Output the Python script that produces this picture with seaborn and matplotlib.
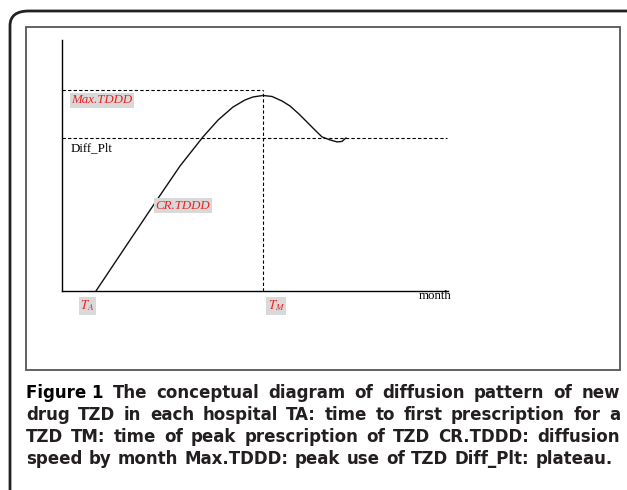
import matplotlib
matplotlib.use('Agg')
import matplotlib.pyplot as plt
import seaborn as sns
import pandas as pd
from matplotlib.patches import FancyBboxPatch, Rectangle

# curva conceitual (mes, TDDD)
meses = [3.52, 6.63, 9.84, 12.23, 14.61, 16.17, 17.72, 18.96, 19.79, 20.83, 21.76,
         22.80, 23.63, 24.56, 25.39, 26.22, 26.94, 27.77, 28.50, 29.02, 29.43]
tddd = [0.0, 1.79, 3.63, 4.98, 6.14, 6.81, 7.33, 7.61, 7.73, 7.79, 7.75,
        7.57, 7.37, 7.05, 6.73, 6.41, 6.14, 6.02, 5.94, 5.96, 6.10]

t_a = 3.5
t_m = 20.83
max_tddd = 8.0
diff_plt = 6.1
x_max = 40
y_max = 10

legenda = [
    "The conceptual diagram of diffusion pattern of new",
    "drug TZD in each hospital TA: time to first prescription for a",
    "TZD TM: time of peak prescription of TZD CR.TDDD: diffusion",
    "speed by month Max.TDDD: peak use of TZD Diff_Plt: plateau.",
]

df = pd.DataFrame({'mes': meses, 'tddd': tddd})

sns.set_style("white")
plt.rcParams['mathtext.fontset'] = 'stix'

W, H = 627, 490
fig = plt.figure(figsize=(W / 100, H / 100), dpi=100)

# moldura externa arredondada e caixa interna
fig.patches.append(FancyBboxPatch((10 / W, -0.1), 1.1, (H - 11) / H + 0.1,
                                  boxstyle="round,pad=0,rounding_size=0.03",
                                  transform=fig.transFigure, fill=False,
                                  edgecolor='#222222', linewidth=2))
fig.patches.append(Rectangle((26 / W, 1 - 370 / H), (620 - 26) / W, (370 - 27) / H,
                             transform=fig.transFigure, fill=False,
                             edgecolor='#555555', linewidth=1.3))

ax = fig.add_axes([62 / W, 1 - 291 / H, 386 / W, 251 / H])
sns.lineplot(data=df, x='mes', y='tddd', color='#111111', linewidth=1, ax=ax, sort=False)

tracejado = (0, (3, 2))
ax.hlines(max_tddd, 0, t_m, colors='black', linestyles=tracejado, linewidth=0.8)
ax.vlines(t_m, 0, max_tddd, colors='black', linestyles=tracejado, linewidth=0.8)
ax.hlines(diff_plt, 0, x_max * 0.998, colors='black', linestyles=tracejado, linewidth=0.8)

ax.set_xlim(0, x_max)
ax.set_ylim(0, y_max)
ax.set_xticks([])
ax.set_yticks([])
ax.set_xlabel('')
ax.set_ylabel('')
for s in ['top', 'right']:
    ax.spines[s].set_visible(False)
for s in ['left', 'bottom']:
    ax.spines[s].set_color('black')
    ax.spines[s].set_linewidth(1)

caixa = dict(facecolor='#d9d9d9', edgecolor='none', pad=1)
vermelho = '#ee2222'
serif = 'Liberation Serif'
ax.text(1.0, 7.6, 'Max.TDDD', family=serif, style='italic', color=vermelho,
        fontsize=9.3, va='center', bbox=caixa)
ax.text(0.9, 5.7, 'Diff_Plt', family=serif, color='black', fontsize=9.3, va='center')
ax.text(9.7, 3.4, 'CR.TDDD', family=serif, style='italic', color=vermelho,
        fontsize=9.3, va='center', bbox=caixa)
ax.text(1.9, -0.6, '$T_A$', color=vermelho, fontsize=9.3, va='center',
        bbox=caixa, clip_on=False)
ax.text(21.3, -0.6, '$T_M$', color=vermelho, fontsize=9.3, va='center',
        bbox=caixa, clip_on=False)
ax.text(40.4, -0.2, 'month', family=serif, color='black', fontsize=9.3,
        ha='right', va='center', clip_on=False)

# legenda da figura, justificada palavra a palavra
renderer = fig.canvas.get_renderer()
x_esq, x_dir = 26, 620
cor = '#231f20'
for i, linha in enumerate(legenda):
    y = 1 - (393 + i * 22) / H
    pecas = []
    if i == 0:
        pecas.append(('Figure 1', '#000000'))
    for p in linha.split():
        pecas.append((p, cor))
    textos = [fig.text(0, y, p, fontsize=12, family='DejaVu Sans', weight='bold',
                       color=c, va='center') for p, c in pecas]
    larg = [t.get_window_extent(renderer).width for t in textos]
    alvo = (x_dir if i < 3 else 613) - x_esq
    gap = max((alvo - sum(larg)) / (len(textos) - 1), 4)
    x = x_esq
    for t, w in zip(textos, larg):
        t.set_x(x / W)
        x += w + gap

plt.savefig('out.png', dpi=100)
